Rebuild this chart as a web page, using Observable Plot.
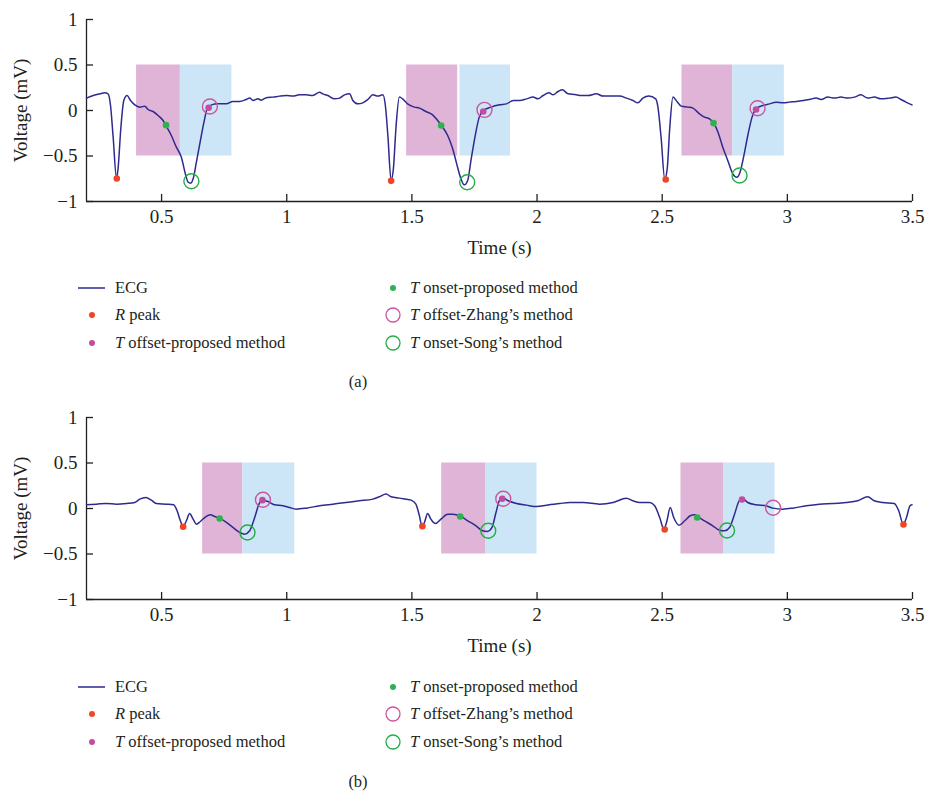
<!DOCTYPE html>
<html><head><meta charset="utf-8">
<script src="https://cdn.jsdelivr.net/npm/d3@7"></script>
<script src="https://cdn.jsdelivr.net/npm/@observablehq/plot@0.6"></script>
<style>
body{margin:0;background:#fff;}
#root{position:relative;width:926px;height:795px;font-family:'Liberation Serif','Times New Roman',serif;color:#231f20;overflow:hidden;}
.panel{position:absolute;left:0;}
.leg{position:absolute;font-size:16.5px;line-height:20px;height:20px;white-space:nowrap;}
.leg svg{position:absolute;left:0;top:0;overflow:visible;}
.leg span{position:absolute;top:0;}
.cap{position:absolute;font-size:16.5px;line-height:20px;transform:translate(-50%,-50%);}
</style></head><body><div id="root"></div>
<script>
// ---------- shared axes ----------
const xDomain = [0.2, 3.5];
const yDomain = [-1, 1];
const xTicks = [0.5, 1, 1.5, 2, 2.5, 3, 3.5];
const xTickLabels = ["0.5", "1", "1.5", "2", "2.5", "3", "3.5"];
const yTicks = [-1, -0.5, 0, 0.5, 1];
const yTickLabels = ["\u22121", "\u22120.5", "0", "0.5", "1"];
const xLabel = "Time (s)";
const yLabel = "Voltage (mV)";
const boxRange = [-0.5, 0.5];

// ---------- panel (a) ----------
const ecgA = [[0.200,0.136],[0.227,0.165],[0.253,0.183],[0.273,0.194],[0.286,0.183],[0.296,0.055],[0.306,-0.275],[0.320,-0.745],[0.326,-0.641],[0.337,-0.200],[0.349,0.110],[0.362,0.165],[0.376,0.110],[0.393,0.062],[0.413,0.037],[0.433,0.048],[0.446,0.011],[0.466,-0.011],[0.486,-0.055],[0.506,-0.110],[0.516,-0.160],[0.539,-0.275],[0.559,-0.403],[0.579,-0.513],[0.595,-0.696],[0.606,-0.788],[0.616,-0.799],[0.626,-0.751],[0.639,-0.568],[0.655,-0.330],[0.672,-0.092],[0.681,0.011],[0.699,0.062],[0.725,0.073],[0.759,0.073],[0.785,0.099],[0.812,0.099],[0.838,0.121],[0.852,0.136],[0.865,0.110],[0.885,0.128],[0.898,0.114],[0.918,0.139],[0.945,0.147],[0.971,0.158],[0.998,0.165],[1.024,0.158],[1.051,0.172],[1.078,0.172],[1.104,0.165],[1.131,0.201],[1.144,0.183],[1.164,0.165],[1.191,0.128],[1.211,0.136],[1.231,0.172],[1.251,0.183],[1.264,0.110],[1.284,0.073],[1.304,0.084],[1.324,0.121],[1.344,0.172],[1.364,0.158],[1.384,0.172],[1.394,0.055],[1.404,-0.275],[1.417,-0.770],[1.426,-0.641],[1.437,-0.165],[1.450,0.147],[1.463,0.128],[1.483,0.073],[1.510,0.037],[1.530,0.026],[1.556,-0.011],[1.583,-0.048],[1.603,-0.110],[1.618,-0.165],[1.643,-0.275],[1.663,-0.421],[1.679,-0.586],[1.696,-0.751],[1.709,-0.817],[1.723,-0.769],[1.736,-0.549],[1.753,-0.275],[1.769,-0.073],[1.786,0.000],[1.816,0.037],[1.851,0.062],[1.878,0.073],[1.905,0.110],[1.931,0.110],[1.958,0.128],[1.984,0.147],[2.004,0.128],[2.024,0.165],[2.048,0.194],[2.064,0.172],[2.084,0.209],[2.101,0.227],[2.124,0.183],[2.151,0.176],[2.177,0.165],[2.204,0.165],[2.237,0.183],[2.264,0.158],[2.297,0.158],[2.330,0.158],[2.357,0.136],[2.383,0.110],[2.403,0.084],[2.423,0.136],[2.447,0.158],[2.474,0.128],[2.483,0.037],[2.496,-0.311],[2.510,-0.751],[2.520,-0.641],[2.530,-0.201],[2.543,0.147],[2.556,0.110],[2.576,0.048],[2.603,0.037],[2.623,0.026],[2.649,-0.037],[2.669,-0.073],[2.689,-0.092],[2.705,-0.136],[2.723,-0.238],[2.742,-0.403],[2.762,-0.549],[2.782,-0.696],[2.798,-0.733],[2.811,-0.678],[2.825,-0.513],[2.842,-0.275],[2.859,-0.073],[2.878,0.026],[2.902,0.055],[2.929,0.073],[2.955,0.092],[2.982,0.084],[3.008,0.092],[3.035,0.099],[3.062,0.110],[3.088,0.121],[3.115,0.136],[3.135,0.121],[3.161,0.147],[3.188,0.136],[3.214,0.147],[3.241,0.136],[3.268,0.147],[3.294,0.172],[3.321,0.136],[3.348,0.147],[3.374,0.128],[3.407,0.136],[3.434,0.147],[3.454,0.121],[3.474,0.092],[3.498,0.062]];
const pinkA = [[0.400,0.575],[1.479,1.683],[2.579,2.782]];
const blueA = [[0.575,0.781],[1.692,1.894],[2.782,2.988]];
const rPeakA = [[0.321,-0.747],[1.417,-0.773],[2.514,-0.758]];
const tOnsetPropA = [[0.518,-0.161],[1.617,-0.165],[2.705,-0.139]];
const tOffsetPropA = [[0.688,0.030],[1.785,-0.011],[2.875,0.011]];
const tOffsetZhangA = [[0.693,0.044],[1.790,0.007],[2.881,0.025]];
const tOnsetSongA = [[0.619,-0.777],[1.721,-0.788],[2.809,-0.714]];

// ---------- panel (b) ----------
const ecgB = [[0.200,0.041],[0.240,0.048],[0.280,0.055],[0.320,0.048],[0.360,0.055],[0.393,0.066],[0.413,0.103],[0.437,0.121],[0.459,0.092],[0.479,0.055],[0.519,0.048],[0.548,0.041],[0.562,-0.025],[0.575,-0.135],[0.586,-0.201],[0.599,-0.135],[0.612,-0.055],[0.626,-0.117],[0.639,-0.172],[0.655,-0.143],[0.676,-0.091],[0.695,-0.069],[0.712,-0.088],[0.732,-0.106],[0.759,-0.153],[0.785,-0.208],[0.812,-0.263],[0.832,-0.282],[0.852,-0.245],[0.872,-0.099],[0.889,0.048],[0.902,0.092],[0.925,0.077],[0.951,0.041],[0.985,0.030],[1.011,0.011],[1.038,-0.007],[1.078,0.004],[1.131,0.030],[1.184,0.048],[1.237,0.066],[1.290,0.085],[1.344,0.103],[1.370,0.129],[1.397,0.158],[1.417,0.129],[1.450,0.114],[1.497,0.092],[1.516,0.048],[1.530,-0.080],[1.540,-0.190],[1.550,-0.154],[1.563,-0.055],[1.576,-0.117],[1.594,-0.165],[1.616,-0.117],[1.643,-0.062],[1.663,-0.062],[1.692,-0.080],[1.723,-0.135],[1.756,-0.190],[1.782,-0.245],[1.802,-0.252],[1.820,-0.208],[1.836,-0.044],[1.849,0.085],[1.862,0.121],[1.885,0.085],[1.918,0.055],[1.958,0.037],[1.998,0.022],[2.038,0.037],[2.091,0.055],[2.131,0.066],[2.184,0.066],[2.250,0.048],[2.304,0.066],[2.357,0.114],[2.383,0.085],[2.410,0.066],[2.450,0.066],[2.470,0.030],[2.490,-0.099],[2.507,-0.227],[2.519,-0.135],[2.532,0.011],[2.546,-0.099],[2.567,-0.183],[2.590,-0.135],[2.612,-0.080],[2.629,-0.069],[2.643,-0.091],[2.669,-0.135],[2.702,-0.190],[2.729,-0.238],[2.749,-0.245],[2.769,-0.208],[2.789,-0.062],[2.806,0.077],[2.820,0.114],[2.842,0.066],[2.875,0.041],[2.915,0.030],[2.942,0.004],[2.982,-0.007],[3.022,0.004],[3.075,0.030],[3.128,0.048],[3.181,0.055],[3.234,0.066],[3.281,0.085],[3.321,0.129],[3.347,0.085],[3.381,0.066],[3.427,0.055],[3.445,-0.025],[3.463,-0.172],[3.476,-0.099],[3.490,0.030],[3.498,0.041]];
const pinkB = [[0.664,0.825],[1.619,1.794],[2.575,2.745]];
const blueB = [[0.825,1.032],[1.794,2.000],[2.745,2.951]];
const rPeakB = [[0.586,-0.200],[1.542,-0.194],[2.510,-0.230],[3.464,-0.176]];
const tOnsetPropB = [[0.732,-0.110],[1.693,-0.088],[2.640,-0.099]];
const tOffsetPropB = [[0.903,0.092],[1.861,0.107],[2.819,0.099]];
const tOffsetZhangB = [[0.905,0.096],[1.865,0.107],[2.943,0.008]];
const tOnsetSongB = [[0.843,-0.264],[1.805,-0.245],[2.759,-0.242]];

// ---------- legend ----------
const legendItalic = ["", "R", "T", "T", "T", "T"];
const legendRest = ["ECG", " peak", " offset-proposed method", " onset-proposed method", " offset-Zhang\u2019s method", " onset-Song\u2019s method"];
const captions = ["(a)", "(b)"];

// ---------- styles ----------
const C = {
  ecg: "#2e2a8e", red: "#ef4626", green: "#2eb24e", mag: "#c24d9e",
  zhang: "#cc55a0", song: "#24ad47", pink: "#dfb4d6", blue: "#cce6f7", axis: "#231f20"
};
const FONT = "'Liberation Serif','Times New Roman',serif";
const root = document.getElementById("root");

function boxes(list) { return list.map(([a, b]) => ({x1: a, x2: b, y1: boxRange[0], y2: boxRange[1]})); }
const X = d => d[0], Y = d => d[1];

function panel(p) {
  return Plot.plot({
    width: 926, height: 256,
    marginLeft: 86, marginRight: 14, marginTop: 19, marginBottom: 55,
    style: {fontFamily: FONT, fontSize: "19px", color: C.axis, background: "transparent", overflow: "visible"},
    x: {domain: xDomain},
    y: {domain: yDomain},
    marks: [
      Plot.rect(boxes(p.pink), {x1: "x1", x2: "x2", y1: "y1", y2: "y2", fill: C.pink}),
      Plot.rect(boxes(p.blue), {x1: "x1", x2: "x2", y1: "y1", y2: "y2", fill: C.blue}),
      Plot.ruleX([xDomain[0]], {stroke: C.axis, strokeWidth: 1.3}),
      Plot.ruleY([yDomain[0]], {stroke: C.axis, strokeWidth: 1.3}),
      Plot.axisX(xTicks, {tickSize: -7, tickPadding: 15, strokeWidth: 1.3,
        tickFormat: d => xTickLabels[xTicks.indexOf(d)],
        label: xLabel, labelAnchor: "center", labelOffset: 52, labelArrow: "none", fontSize: 19}),
      Plot.axisY(yTicks, {tickSize: -7, tickPadding: 16, strokeWidth: 1.3,
        tickFormat: d => yTickLabels[yTicks.indexOf(d)],
        label: yLabel, labelAnchor: "center", labelOffset: 73, labelArrow: "none", fontSize: 19}),
      Plot.line(p.ecg, {x: X, y: Y, stroke: C.ecg, strokeWidth: 1.5, curve: "monotone-x"}),
      Plot.dot(p.rPeak, {x: X, y: Y, r: 3.3, fill: C.red}),
      Plot.dot(p.tOnsetProp, {x: X, y: Y, r: 3.3, fill: C.green}),
      Plot.dot(p.tOffsetProp, {x: X, y: Y, r: 3.3, fill: C.mag}),
      Plot.dot(p.tOffsetZhang, {x: X, y: Y, r: 7.5, stroke: C.zhang, strokeWidth: 1.4, fill: "none"}),
      Plot.dot(p.tOnsetSong, {x: X, y: Y, r: 7.5, stroke: C.song, strokeWidth: 1.4, fill: "none"})
    ]
  });
}

function symbol(i) {
  const ns = "http://www.w3.org/2000/svg";
  const s = document.createElementNS(ns, "svg");
  s.setAttribute("width", 40); s.setAttribute("height", 20);
  let el;
  if (i === 0) {
    el = document.createElementNS(ns, "line");
    el.setAttribute("x1", 6); el.setAttribute("x2", 33); el.setAttribute("y1", 10); el.setAttribute("y2", 10);
    el.setAttribute("stroke", C.ecg); el.setAttribute("stroke-width", 1.5);
  } else {
    el = document.createElementNS(ns, "circle");
    el.setAttribute("cx", 20); el.setAttribute("cy", 10);
    const fills = [null, C.red, C.mag, C.green];
    if (i <= 3) { el.setAttribute("r", 3); el.setAttribute("fill", fills[i]); }
    else { el.setAttribute("r", 7); el.setAttribute("fill", "none");
      el.setAttribute("stroke", i === 4 ? C.zhang : C.song); el.setAttribute("stroke-width", 1.3); }
  }
  s.appendChild(el);
  return s;
}

function legend(top) {
  const rowOff = [0, 27, 55];
  legendRest.forEach((rest, i) => {
    const col = i < 3 ? 0 : 1;
    const row = i % 3;
    const div = document.createElement("div");
    div.className = "leg";
    div.style.left = (col === 0 ? 72 : 373) + "px";
    div.style.top = (top + rowOff[row] - 10) + "px";
    div.appendChild(symbol(i));
    const span = document.createElement("span");
    span.style.left = (col === 0 ? 43 : 37) + "px";
    if (legendItalic[i]) { const it = document.createElement("i"); it.textContent = legendItalic[i]; span.appendChild(it); }
    span.appendChild(document.createTextNode(rest));
    div.appendChild(span);
    root.appendChild(div);
  });
}

function caption(text, cy) {
  const d = document.createElement("div");
  d.className = "cap"; d.style.left = "358px"; d.style.top = cy + "px"; d.textContent = text;
  root.appendChild(d);
}

const pa = panel({ecg: ecgA, pink: pinkA, blue: blueA, rPeak: rPeakA, tOnsetProp: tOnsetPropA, tOffsetProp: tOffsetPropA, tOffsetZhang: tOffsetZhangA, tOnsetSong: tOnsetSongA});
const pb = panel({ecg: ecgB, pink: pinkB, blue: blueB, rPeak: rPeakB, tOnsetProp: tOnsetPropB, tOffsetProp: tOffsetPropB, tOffsetZhang: tOffsetZhangB, tOnsetSong: tOnsetSongB});
const wa = document.createElement("div"); wa.className = "panel"; wa.style.top = "0px"; wa.appendChild(pa); root.appendChild(wa);
const wb = document.createElement("div"); wb.className = "panel"; wb.style.top = "398px"; wb.appendChild(pb); root.appendChild(wb);
legend(288);
caption(captions[0], 382);
legend(687);
caption(captions[1], 782);
</script></body></html>
